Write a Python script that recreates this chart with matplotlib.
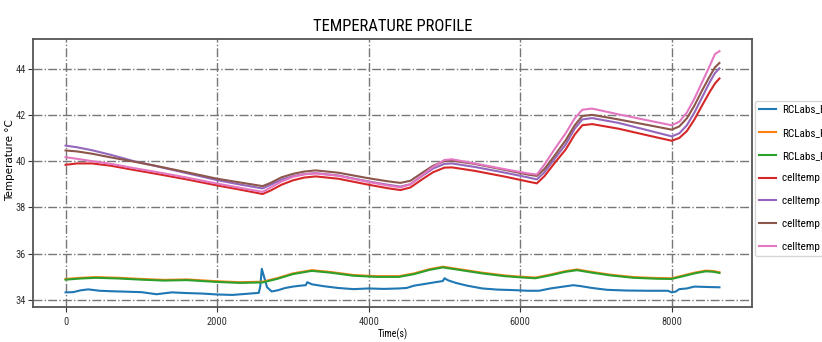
import matplotlib
matplotlib.use("Agg")
import matplotlib.pyplot as plt
import matplotlib.font_manager as fm

# cell temperatures, sampled at the same times (s)
t_cell = [0, 150, 350, 600, 900, 1200, 1600, 2000, 2300, 2600, 2700, 2850, 3000,
          3150, 3300, 3600, 4000, 4250, 4420, 4550, 4700, 4850, 5000, 5100, 5400,
          5800, 6100, 6220, 6320, 6450, 6600, 6720, 6820, 6950, 7300, 7700, 8000,
          8100, 8200, 8300, 8400, 8500, 8570, 8630]
celltemp1 = [39.84, 39.90, 39.90, 39.80, 39.62, 39.45, 39.21, 38.95, 38.77, 38.58,
             38.72, 38.98, 39.17, 39.29, 39.34, 39.24, 38.98, 38.83, 38.75, 38.86,
             39.20, 39.52, 39.72, 39.73, 39.58, 39.33, 39.12, 39.04, 39.35, 39.90,
             40.50, 41.15, 41.55, 41.60, 41.40, 41.10, 40.88, 41.00, 41.30, 41.80,
             42.40, 42.98, 43.35, 43.57]
celltemp2 = [40.67, 40.60, 40.47, 40.27, 40.00, 39.78, 39.48, 39.18, 38.99, 38.82,
             38.97, 39.20, 39.35, 39.44, 39.48, 39.38, 39.12, 38.98, 38.90, 39.00,
             39.35, 39.68, 39.88, 39.90, 39.75, 39.50, 39.30, 39.21, 39.52, 40.08,
             40.72, 41.40, 41.80, 41.86, 41.65, 41.32, 41.07, 41.20, 41.55, 42.10,
             42.75, 43.40, 43.80, 44.01]
celltemp3 = [40.46, 40.42, 40.32, 40.16, 39.98, 39.79, 39.52, 39.24, 39.08, 38.92,
             39.05, 39.30, 39.45, 39.55, 39.60, 39.50, 39.26, 39.13, 39.06, 39.15,
             39.48, 39.80, 40.00, 40.02, 39.88, 39.62, 39.42, 39.36, 39.66, 40.22,
             40.90, 41.55, 41.95, 42.00, 41.80, 41.55, 41.36, 41.50, 41.85, 42.40,
             43.05, 43.65, 44.05, 44.24]
celltemp4 = [40.17, 40.10, 40.00, 39.88, 39.70, 39.53, 39.29, 39.03, 38.85, 38.67,
             38.85, 39.12, 39.32, 39.43, 39.47, 39.37, 39.10, 38.95, 38.87, 39.00,
             39.38, 39.75, 40.05, 40.08, 39.90, 39.65, 39.47, 39.42, 39.85, 40.50,
             41.20, 41.85, 42.22, 42.27, 42.02, 41.75, 41.55, 41.70, 42.10, 42.70,
             43.40, 44.10, 44.62, 44.75]

# BMS board sensor
t_bms = [0, 100, 200, 300, 450, 600, 800, 1000, 1200, 1400, 1600, 1800, 2000, 2200,
         2400, 2550, 2570, 2590, 2620, 2660, 2720, 2800, 2900, 3000, 3100, 3170,
         3190, 3250, 3400, 3600, 3800, 4000, 4200, 4400, 4500, 4600, 4750, 4900,
         4980, 5000, 5050, 5150, 5300, 5500, 5700, 5900, 6100, 6250, 6400, 6550,
         6700, 6800, 6950, 7150, 7400, 7700, 7950, 8000, 8050, 8100, 8200, 8300,
         8400, 8500, 8630]
bms = [34.33, 34.34, 34.42, 34.46, 34.40, 34.38, 34.36, 34.34, 34.25, 34.33, 34.30,
       34.28, 34.24, 34.22, 34.27, 34.31, 34.60, 35.35, 35.00, 34.55, 34.37, 34.42,
       34.52, 34.58, 34.62, 34.64, 34.77, 34.68, 34.60, 34.52, 34.47, 34.50, 34.48,
       34.50, 34.52, 34.62, 34.70, 34.78, 34.82, 34.94, 34.85, 34.74, 34.62, 34.50,
       34.45, 34.43, 34.40, 34.40, 34.50, 34.57, 34.64, 34.60, 34.52, 34.44, 34.41,
       34.40, 34.40, 34.33, 34.36, 34.47, 34.50, 34.58, 34.57, 34.56, 34.55]

# PIK sensors
t_pik = [0, 200, 400, 700, 1000, 1300, 1600, 2000, 2300, 2600, 2800, 3000, 3250,
         3500, 3800, 4100, 4400, 4600, 4800, 4980, 5200, 5500, 5800, 6000, 6200,
         6400, 6600, 6750, 6950, 7200, 7500, 7800, 8000, 8150, 8300, 8450, 8550, 8630]
pik1 = [34.91, 34.96, 34.99, 34.96, 34.91, 34.87, 34.89, 34.81, 34.77, 34.79, 34.95,
        35.15, 35.29, 35.21, 35.08, 35.03, 35.03, 35.15, 35.33, 35.44, 35.33, 35.18,
        35.06, 35.01, 34.97, 35.10, 35.25, 35.32, 35.21, 35.09, 34.99, 34.95, 34.94,
        35.06, 35.18, 35.27, 35.25, 35.20]
pik2 = [34.88, 34.93, 34.96, 34.93, 34.88, 34.84, 34.86, 34.78, 34.74, 34.76, 34.92,
        35.12, 35.26, 35.18, 35.05, 35.00, 35.00, 35.12, 35.30, 35.41, 35.30, 35.15,
        35.03, 34.98, 34.94, 35.07, 35.22, 35.29, 35.18, 35.06, 34.96, 34.92, 34.91,
        35.03, 35.15, 35.24, 35.22, 35.17]


def narrow_font():
    """Pick a condensed sans face if one is installed."""
    fonts = fm.fontManager.ttflist
    names = {f.name for f in fonts}
    for name in ["Liberation Sans Narrow", "Roboto Condensed", "Open Sans Condensed",
                 "Noto Sans Condensed", "DejaVu Sans Condensed"]:
        if name in names:
            return {"family": name}
    for f in fonts:
        if f.name in ("DejaVu Sans", "Open Sans", "Noto Sans", "Roboto") and \
                str(f.stretch) in ("condensed", "semi-condensed", "extra-condensed"):
            return {"family": f.name, "stretch": f.stretch}
    for f in fonts:
        if "Narrow" in f.name or "Condensed" in f.name:
            return {"family": f.name}
    return {"family": "Roboto"}


nf = narrow_font()

fig = plt.figure(figsize=(8.22, 3.42), dpi=100)
ax = fig.add_axes([0.040, 0.102, 0.875, 0.784])

ax.plot(t_bms, bms, label="RCLabs_BMS_Temp")
ax.plot(t_pik, pik1, label="RCLabs_PIK_1")
ax.plot(t_pik, pik2, label="RCLabs_PIK_2")
ax.plot(t_cell, celltemp1, label="celltemp 1")
ax.plot(t_cell, celltemp2, label="celltemp 2")
ax.plot(t_cell, celltemp3, label="celltemp 3")
ax.plot(t_cell, celltemp4, label="celltemp 4")

ax.set_xticks([0, 2000, 4000, 6000, 8000])
ax.set_yticks([34, 36, 38, 40, 42, 44])
ax.grid(True, linestyle="-.", color="#777777", linewidth=1)
for s in ax.spines.values():
    s.set_color("#555555")
    s.set_linewidth(1.3)
ax.tick_params(colors="#333333", labelsize=7.5)
ax.tick_params(axis="y", pad=1.5)
for lab in ax.get_xticklabels() + ax.get_yticklabels():
    lab.set(**nf)

ax.set_title("TEMPERATURE PROFILE", fontsize=12, pad=6, **nf)
ax.set_xlabel("Time(s)", fontsize=7, **nf)
ax.xaxis.set_label_coords(0.5, -0.08)
ax.set_ylabel("Temperature °C", fontsize=7.5)
ax.yaxis.set_label_coords(-0.025, 0.55)

prop = fm.FontProperties(size=8, **nf)
ax.legend(loc="center left", bbox_to_anchor=(1.004, 0.48), prop=prop,
          labelspacing=1.15, handlelength=1.5, handletextpad=0.5,
          borderaxespad=0)

fig.savefig("out.png", dpi=100)
